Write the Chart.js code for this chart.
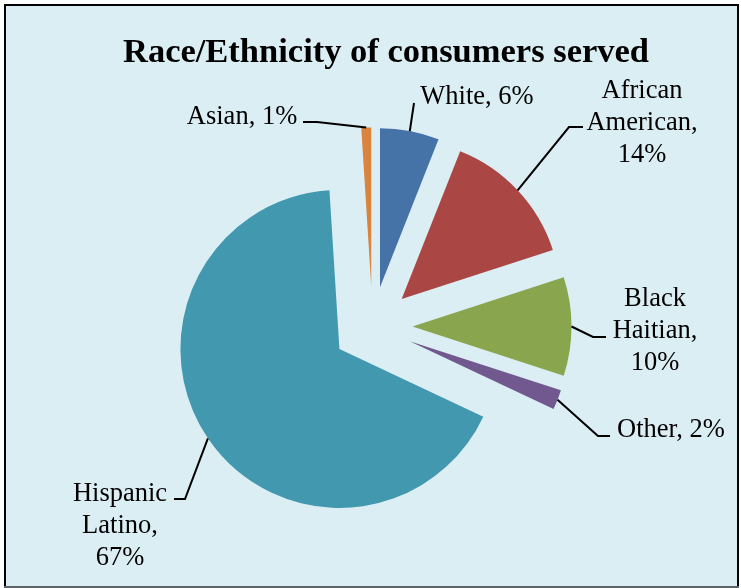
<!DOCTYPE html>
<html><head><meta charset="utf-8">
<script src="https://cdn.jsdelivr.net/npm/chart.js@4"></script>
<style>html,body{margin:0;padding:0;background:#fff;}canvas{display:block;}</style>
</head><body>
<canvas id="c" width="741" height="588"></canvas>
<script>
// ---- data ----
const categories = ['White', 'African American', 'Black Haitian', 'Other', 'Hispanic Latino', 'Asian'];
const values = [6, 14, 10, 2, 67, 1];
const labelLines = [
  ['White, 6%'],
  ['African', 'American,', '14%'],
  ['Black', 'Haitian,', '10%'],
  ['Other, 2%'],
  ['Hispanic', 'Latino,', '67%'],
  ['Asian, 1%']
];
const colors = ['#4572A7', '#AA4643', '#89A54E', '#71588F', '#4198AF', '#DB843D'];
const titleText = 'Race/Ethnicity of consumers served';

// ---- layout (label centres and leader-line bends) ----
const labelLayout = [
  {x: 477, y: 95,  path: [[414, 103]]},
  {x: 642, y: 89,  path: [[569, 127], [583, 127]]},
  {x: 655, y: 297, path: [[593, 337], [606, 337]]},
  {x: 671, y: 428, path: [[598, 436], [610, 436]]},
  {x: 120, y: 492, path: [[185, 499], [174, 499]]},
  {x: 242, y: 115, path: [[317, 122], [303, 122]]}
];
const EXPLODE = 40;
const LABEL_FONT = '26.5px "Liberation Serif"';
const LINE_H = 32;

const bgPlugin = {
  id: 'bg',
  beforeDraw(chart) {
    const ctx = chart.ctx;
    ctx.save();
    ctx.fillStyle = '#ffffff';
    ctx.fillRect(0, 0, chart.width, chart.height);
    ctx.fillStyle = '#DBEEF4';
    ctx.fillRect(4, 4, 734, 582);
    ctx.strokeStyle = '#000';
    ctx.lineWidth = 2;
    ctx.beginPath();
    ctx.moveTo(5, 586); ctx.lineTo(5, 5); ctx.lineTo(738, 5); ctx.lineTo(738, 586);
    ctx.stroke();
    ctx.strokeStyle = '#5E6368';
    ctx.beginPath(); ctx.moveTo(4, 587); ctx.lineTo(739, 587); ctx.stroke();
    ctx.restore();
  }
};

const explodePlugin = {
  id: 'explode',
  afterDatasetUpdate(chart, args) {
    const meta = chart.getDatasetMeta(args.index);
    meta.data.forEach(arc => {
      const mid = (arc.startAngle + arc.endAngle) / 2;
      arc.x += Math.cos(mid) * EXPLODE;
      arc.y += Math.sin(mid) * EXPLODE;
    });
  }
};

const labelPlugin = {
  id: 'labels',
  afterDraw(chart) {
    const ctx = chart.ctx;
    const arcs = chart.getDatasetMeta(0).data;
    ctx.save();
    // title
    ctx.fillStyle = '#000';
    ctx.font = 'bold 34.5px "Liberation Serif"';
    ctx.textAlign = 'center';
    ctx.textBaseline = 'alphabetic';
    ctx.fillText(titleText, 386, 62);
    // leader lines and labels
    ctx.strokeStyle = '#000';
    ctx.lineWidth = 2;
    ctx.font = LABEL_FONT;
    arcs.forEach((arc, i) => {
      const mid = (arc.startAngle + arc.endAngle) / 2;
      const ax = arc.x + Math.cos(mid) * arc.outerRadius;
      const ay = arc.y + Math.sin(mid) * arc.outerRadius;
      const L = labelLayout[i];
      ctx.beginPath();
      ctx.moveTo(ax, ay);
      L.path.forEach(p => ctx.lineTo(p[0], p[1]));
      ctx.stroke();
      labelLines[i].forEach((t, k) => {
        ctx.fillText(t, L.x, L.y + k * LINE_H + 8.8);
      });
    });
    ctx.restore();
  }
};

new Chart(document.getElementById('c'), {
  type: 'pie',
  data: {
    labels: categories,
    datasets: [{
      data: values,
      backgroundColor: colors,
      borderWidth: 0
    }]
  },
  options: {
    responsive: false,
    devicePixelRatio: 1,
    animation: false,
    events: [],
    radius: 159,
    layout: {padding: {left: 40, right: 36, top: 100, bottom: 35}},
    plugins: {
      legend: {display: false},
      title: {display: false},
      tooltip: {enabled: false}
    }
  },
  plugins: [bgPlugin, explodePlugin, labelPlugin]
});
</script>
</body></html>
